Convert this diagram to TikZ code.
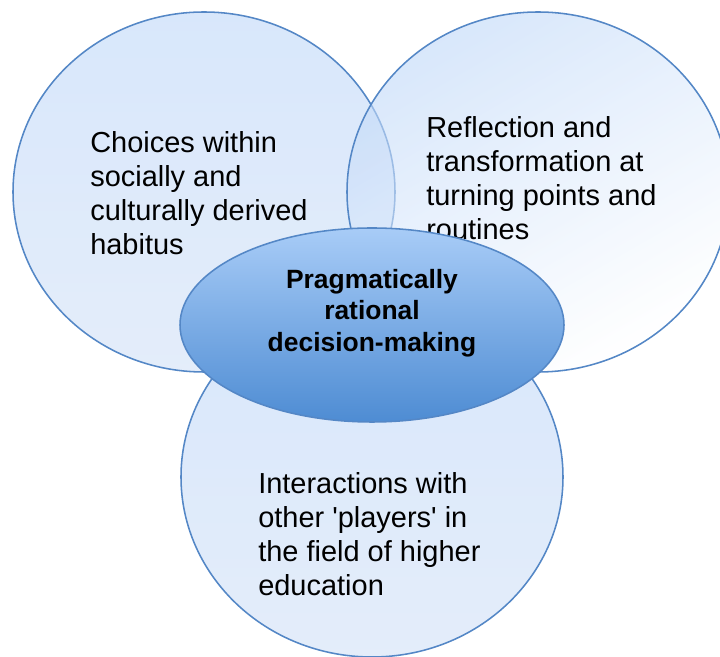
\documentclass[tikz,border=0pt]{standalone}
\usepackage{fontspec}
\setmainfont{Liberation Sans}
\usetikzlibrary{shapes.geometric}
\definecolor{edgeblue}{RGB}{84,135,198}
\definecolor{paleblue}{RGB}{190,215,248}
\definecolor{paleblue2}{RGB}{210,225,247}
\definecolor{hubtop}{RGB}{168,204,247}
\definecolor{hubbottom}{RGB}{78,140,211}
\begin{document}
\begin{tikzpicture}
	\tikzstyle{Circ} = [ellipse, minimum width=9.55cm, minimum height=9cm, inner sep=0pt, draw=edgeblue, line width=1.1pt, fill opacity=0.6]
	\tikzstyle{Hub} = [ellipse, minimum width=9.6cm, minimum height=4.85cm, inner sep=0pt, draw=edgeblue, line width=1.1pt, top color=hubtop, bottom color=hubbottom]
	\tikzstyle{Label} = [align=left, anchor=west, inner sep=0pt, font=\fontsize{20.6}{24.2}\selectfont]
	\tikzstyle{HubLabel} = [align=center, inner sep=0pt, font=\fontsize{18.8}{22.4}\selectfont\bfseries]
	
	\useasboundingbox (0,0) rectangle (18,16.425);
	
	\node (c1) [Circ, top color=paleblue, bottom color=paleblue2] at (5.1,11.625) {};
	\node (c2) [Circ, top color=paleblue, bottom color=white, shading angle=30] at (13.45,11.625) {};
	\node (c3) [Circ, top color=paleblue, bottom color=paleblue2] at (9.3,4.5) {};
	
	\node (habitus) [Label] at (2.25,11.6) {Choices within\\socially and\\culturally derived\\habitus};
	\node (turning) [Label] at (10.65,11.975) {Reflection and\\transformation at\\turning points and\\routines};
	\node (players) [Label] at (6.45,3.075) {Interactions with\\other \textquotesingle players\textquotesingle{} in\\the field of higher\\education};
	
	\node (hub) [Hub] at (9.3,8.3) {};
	\node (decision) [HubLabel] at (9.3,8.6) {Pragmatically\\rational\\decision-making};
\end{tikzpicture}
\end{document}
